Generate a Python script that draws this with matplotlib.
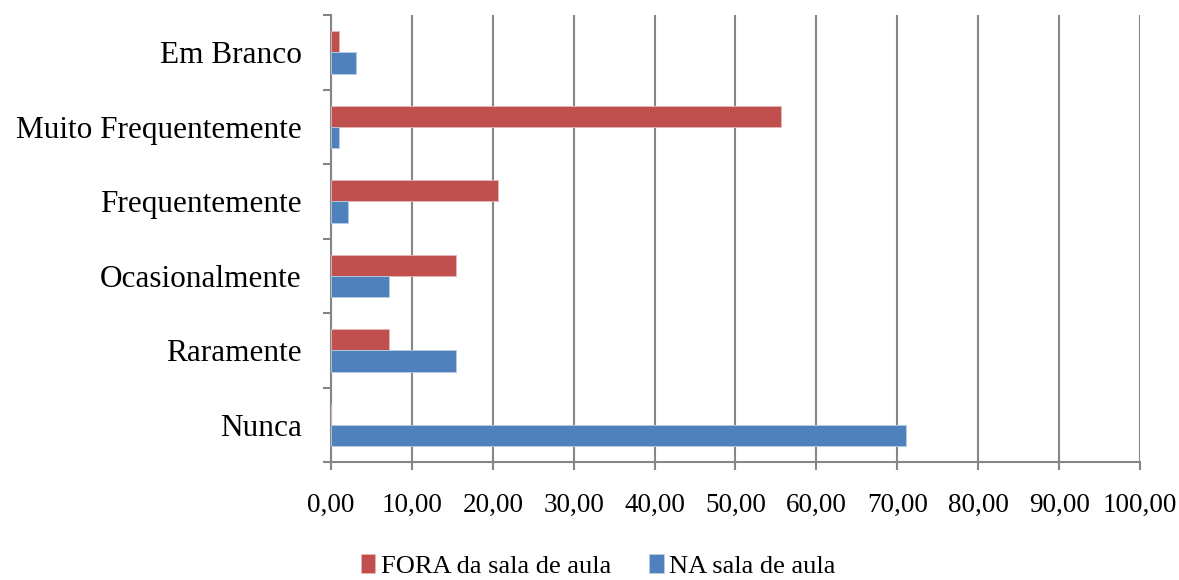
import matplotlib.pyplot as plt
import numpy as np
from matplotlib.ticker import FuncFormatter

plt.rcParams["font.family"] = ["Liberation Serif", "DejaVu Serif"]

categories = ["Nunca", "Raramente", "Ocasionalmente", "Frequentemente",
              "Muito Frequentemente", "Em Branco"]
fora_sala = [0.0, 7.22, 15.46, 20.62, 55.67, 1.03]
na_sala = [71.13, 15.46, 7.22, 2.06, 1.03, 3.09]

red = "#C0504D"
blue = "#4F81BD"
grid_grey = "#868686"

fig = plt.figure(figsize=(11.79, 5.80), dpi=100)
ax = fig.add_axes([0.2807, 0.2034, 0.6862, 0.7707])

y = np.arange(len(categories))
h = 0.285
ax.barh(y + h / 2, fora_sala, height=h, color=red, edgecolor="#E6B8B7",
        linewidth=0.6, label="FORA da sala de aula", zorder=3)
ax.barh(y - h / 2, na_sala, height=h, color=blue, edgecolor="#B9CDE5",
        linewidth=0.6, label="NA sala de aula", zorder=3)

ax.set_xlim(0, 100)
ax.set_ylim(-0.5, len(categories) - 0.5)
ax.set_xticks(np.arange(0, 101, 10))
ax.xaxis.set_major_formatter(FuncFormatter(lambda v, p: f"{v:.2f}".replace(".", ",")))
ax.grid(axis="x", color=grid_grey, linewidth=1.5, zorder=0)

ax.set_yticks(y)
ax.set_yticklabels(categories, fontsize=22.5)
ax.set_yticks(np.arange(-0.5, len(categories), 1), minor=True)
ax.tick_params(axis="y", which="major", length=0, pad=21)
ax.tick_params(axis="y", which="minor", length=6, width=1.5, color=grid_grey)
ax.tick_params(axis="x", length=6, width=1.5, color=grid_grey, pad=16,
               labelsize=19.5)

for side in ("top", "right"):
    ax.spines[side].set_visible(False)
for side in ("left", "bottom"):
    ax.spines[side].set_color(grid_grey)
    ax.spines[side].set_linewidth(1.5)

handles, labels = ax.get_legend_handles_labels()
fig.legend(handles, labels, loc="center", bbox_to_anchor=(0.5072, 0.024),
           ncol=2, frameon=False, fontsize=19, handlelength=0.55,
           handleheight=0.72, handletextpad=0.2, columnspacing=1.45,
           borderpad=0)

fig.savefig("out.png", dpi=100)
